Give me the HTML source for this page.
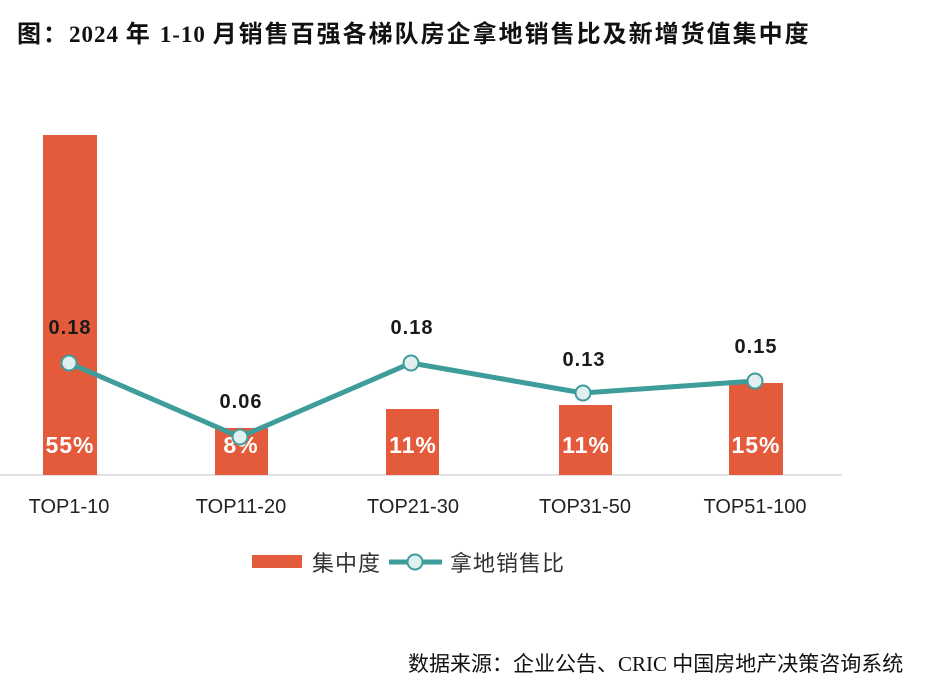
<!DOCTYPE html>
<html>
<head>
<meta charset="utf-8">
<style>
  html,body{margin:0;padding:0;background:#fff;}
  body{width:945px;height:691px;overflow:hidden;}
  svg{display:block;}
</style>
</head>
<body>
<svg width="945" height="691" viewBox="0 0 945 691" xmlns="http://www.w3.org/2000/svg">
  <rect width="945" height="691" fill="#ffffff"/>
  <!-- Title -->
  <text x="17" y="42" font-family="'Liberation Serif','Noto Sans CJK SC',serif" font-weight="bold" font-size="24" letter-spacing="2" fill="#111">图：<tspan font-size="23" letter-spacing="1">2024 </tspan>年 <tspan font-size="23" letter-spacing="1">1-10 </tspan>月销售百强各梯队房企拿地销售比及新增货值集中度</text>

  <!-- axis -->
  <line x1="0" y1="475" x2="842" y2="475" stroke="#d9d9d9" stroke-width="1.5"/>

  <!-- bars -->
  <g fill="#E35B3A">
    <rect x="43" y="135" width="54" height="340"/>
    <rect x="215" y="428" width="53" height="47"/>
    <rect x="386" y="409" width="53" height="66"/>
    <rect x="559" y="405" width="53" height="70"/>
    <rect x="729" y="383" width="54" height="92"/>
  </g>

  <!-- bar labels -->
  <g font-family="'Liberation Sans',sans-serif" font-weight="bold" font-size="23" fill="#ffffff" text-anchor="middle" letter-spacing="1">
    <text x="70" y="453">55%</text>
    <text x="241" y="453">8%</text>
    <text x="413" y="453">11%</text>
    <text x="586" y="453">11%</text>
    <text x="756" y="453">15%</text>
  </g>

  <!-- line -->
  <polyline points="69,363 240,437 411,363 583,393 755,381" fill="none" stroke="#3E9C9B" stroke-width="5" stroke-linejoin="round"/>
  <g fill="#E2EFEF" stroke="#3E9C9B" stroke-width="2">
    <circle cx="69" cy="363" r="7.5"/>
    <circle cx="240" cy="437" r="7.5"/>
    <circle cx="411" cy="363" r="7.5"/>
    <circle cx="583" cy="393" r="7.5"/>
    <circle cx="755" cy="381" r="7.5"/>
  </g>

  <!-- line labels -->
  <g font-family="'Liberation Sans',sans-serif" font-weight="bold" font-size="20" fill="#1a1a1a" text-anchor="middle" letter-spacing="1">
    <text x="70" y="334">0.18</text>
    <text x="241" y="408">0.06</text>
    <text x="412" y="334">0.18</text>
    <text x="584" y="366">0.13</text>
    <text x="756" y="353">0.15</text>
  </g>

  <!-- category labels -->
  <g font-family="'Liberation Sans',sans-serif" font-size="20" fill="#222" text-anchor="middle">
    <text x="69" y="513">TOP1-10</text>
    <text x="241" y="513">TOP11-20</text>
    <text x="413" y="513">TOP21-30</text>
    <text x="585" y="513">TOP31-50</text>
    <text x="755" y="513">TOP51-100</text>
  </g>

  <!-- legend -->
  <rect x="252" y="555" width="50" height="13" fill="#E35B3A"/>
  <text x="312" y="571" font-family="'Liberation Sans','Noto Sans CJK SC',sans-serif" font-size="22" fill="#333" letter-spacing="1">集中度</text>
  <line x1="389" y1="562" x2="442" y2="562" stroke="#3E9C9B" stroke-width="5"/>
  <circle cx="415" cy="562" r="7.5" fill="#E2EFEF" stroke="#3E9C9B" stroke-width="2"/>
  <text x="450" y="571" font-family="'Liberation Sans','Noto Sans CJK SC',sans-serif" font-size="22" fill="#333" letter-spacing="1">拿地销售比</text>

  <!-- source -->
  <text x="408" y="671" font-family="'Liberation Serif','Noto Sans CJK SC',serif" font-size="21" fill="#111">数据来源：企业公告、CRIC 中国房地产决策咨询系统</text>
</svg>
</body>
</html>
